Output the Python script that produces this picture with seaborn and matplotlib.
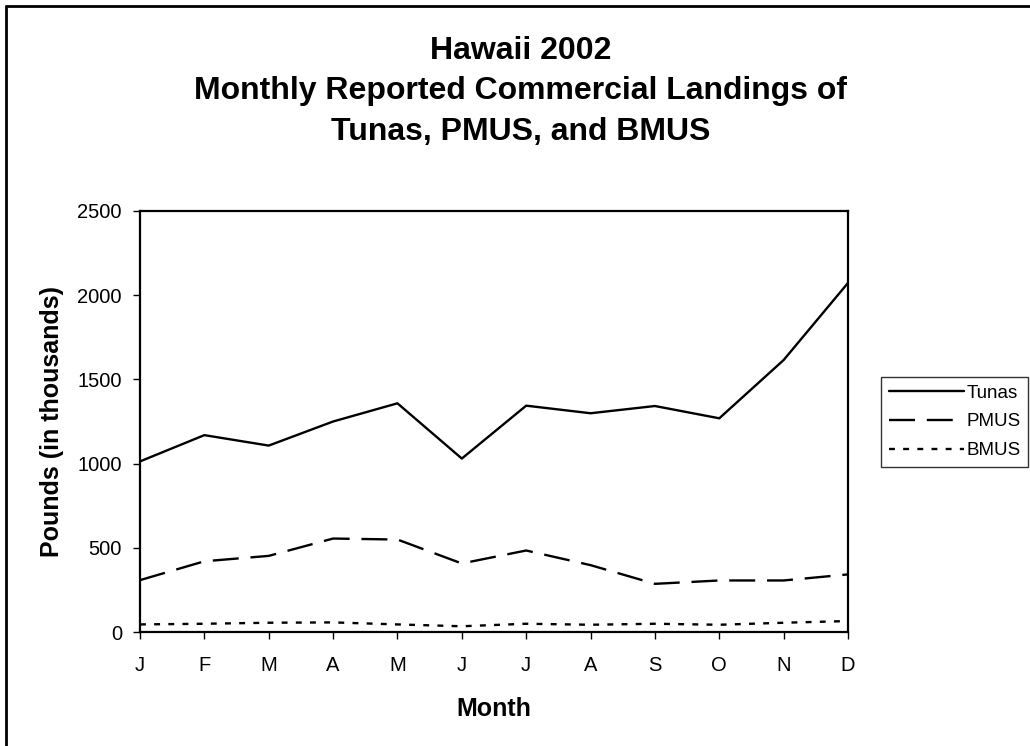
import matplotlib
matplotlib.use("Agg")
import matplotlib.pyplot as plt
import seaborn as sns
import pandas as pd
from matplotlib.lines import Line2D

# monthly landings, thousands of pounds
months = ["J", "F", "M", "A", "M", "J", "J", "A", "S", "O", "N", "D"]
tunas = [1013, 1169, 1107, 1250, 1358, 1030, 1344, 1299, 1342, 1269, 1615, 2073]
pmus = [308, 420, 452, 555, 549, 407, 484, 397, 286, 306, 306, 342]
bmus = [45, 49, 55, 57, 45, 34, 49, 43, 49, 43, 55, 65]
series_names = ["Tunas", "PMUS", "BMUS"]

rows = []
for name, vals in zip(series_names, [tunas, pmus, bmus]):
    for i, v in enumerate(vals):
        rows.append({"month": i, "value": v, "series": name})
df = pd.DataFrame(rows)

sns.set_style("white")
plt.rcParams["font.family"] = ["Liberation Sans", "DejaVu Sans"]
plt.rcParams["text.color"] = "black"
plt.rcParams["axes.labelcolor"] = "black"
plt.rcParams["xtick.color"] = "black"
plt.rcParams["ytick.color"] = "black"

fig = plt.figure(figsize=(10.3, 7.46), dpi=100)
ax = fig.add_axes([140 / 1030, 1 - 632 / 746, 708 / 1030, 421 / 746])

dash_styles = {"Tunas": "", "PMUS": (11, 5), "BMUS": (2.5, 3.5)}
sns.lineplot(data=df, x="month", y="value", style="series", dashes=dash_styles,
             color="black", linewidth=1.7, ax=ax, legend=False)

ax.set_xlim(0, 11)
ax.set_ylim(0, 2500)
ax.set_xticks(range(12))
ax.set_xticklabels(months)
ax.set_yticks(range(0, 2501, 500))
ax.tick_params(axis="both", direction="out", length=5, width=1,
               labelsize=14.5, pad=8)
ax.tick_params(axis="x", pad=12)
ax.tick_params(left=True, bottom=True)
for sp in ax.spines.values():
    sp.set_visible(True)
    sp.set_color("black")
    sp.set_linewidth(1.6)

ax.set_xlabel("Month", fontsize=18, fontweight="bold", labelpad=16)
ax.set_ylabel("Pounds (in thousands)", fontsize=18, fontweight="bold", labelpad=10)

fig.text(521 / 1030, 1 - 36 / 746,
         "Hawaii 2002\nMonthly Reported Commercial Landings of\nTunas, PMUS, and BMUS",
         ha="center", va="top", fontsize=23, fontweight="bold",
         linespacing=1.45, multialignment="center")

handles = [Line2D([], [], color="black", lw=1.7, linestyle=ls)
           for ls in ["-", (0, (11, 5)), (0, (2.5, 3.5))]]
leg = fig.legend(handles, series_names, loc="upper left",
                 bbox_to_anchor=(881 / 1030, 1 - 377 / 746),
                 fontsize=13.5, frameon=True, fancybox=False, handlelength=4,
                 handletextpad=0.15, borderpad=0.4, labelspacing=0.62,
                 borderaxespad=0)
leg.get_frame().set_edgecolor("black")
leg.get_frame().set_linewidth(1.0)

# outer frame: only the top and left edges are visible in the original
fig.add_artist(Line2D([5.5 / 1030, 1], [1 - 6 / 746, 1 - 6 / 746],
                      transform=fig.transFigure, color="black", lw=2))
fig.add_artist(Line2D([5.5 / 1030, 5.5 / 1030], [0, 1 - 6 / 746],
                      transform=fig.transFigure, color="black", lw=2))

fig.savefig("out.png", dpi=100)
